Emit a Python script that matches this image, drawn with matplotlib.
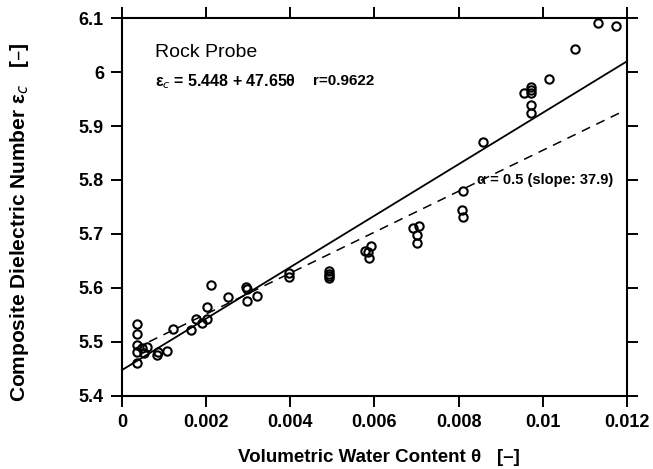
import numpy as np
import matplotlib
matplotlib.use('Agg')
import matplotlib.pyplot as plt

plt.rcParams['font.family'] = ['Liberation Sans', 'DejaVu Sans']

# measured points (volumetric water content, composite dielectric number)
theta = [0.00036, 0.00036, 0.00036, 0.00036, 0.00036, 0.00047, 0.00059,
         0.00052, 0.00083, 0.00085, 0.00108, 0.00121, 0.00165, 0.00176,
         0.00190, 0.00202, 0.00201, 0.00211, 0.00251, 0.00294, 0.00296,
         0.00297, 0.00321, 0.00397, 0.00397, 0.00493, 0.00493, 0.00493,
         0.00493, 0.00577, 0.00591, 0.00585, 0.00588, 0.00691, 0.00706,
         0.00700, 0.00700, 0.00811, 0.00807, 0.00811, 0.00859, 0.00955,
         0.00971, 0.00971, 0.00971, 0.00971, 0.00971, 0.01014, 0.01077,
         0.01132, 0.01174]
eps_c = [5.533, 5.514, 5.494, 5.482, 5.461, 5.488, 5.490, 5.479, 5.476,
         5.482, 5.484, 5.524, 5.522, 5.542, 5.535, 5.542, 5.564, 5.606,
         5.584, 5.601, 5.598, 5.576, 5.585, 5.628, 5.620, 5.631, 5.626,
         5.622, 5.619, 5.669, 5.677, 5.667, 5.656, 5.711, 5.715, 5.698,
         5.683, 5.780, 5.744, 5.731, 5.870, 5.962, 5.973, 5.961, 5.939,
         5.924, 5.966, 5.987, 6.043, 6.091, 6.086]

# regression line and alpha = 0.5 model
fit_a, fit_b = 5.448, 47.65
alpha_a, alpha_b = 5.476, 37.9
fit_x = [0.0, 0.012]
alpha_x = [0.0003, 0.0119]

xticks = [0, 0.002, 0.004, 0.006, 0.008, 0.01, 0.012]
xlabels = ['0', '0.002', '0.004', '0.006', '0.008', '0.01', '0.012']
yticks = [5.4, 5.5, 5.6, 5.7, 5.8, 5.9, 6.0, 6.1]
ylabels = ['5.4', '5.5', '5.6', '5.7', '5.8', '5.9', '6', '6.1']

fig = plt.figure(figsize=(6.53, 4.69), dpi=100)
ax = fig.add_axes([0.1868, 0.1557, 0.7733, 0.8059])

ax.plot(fit_x, [fit_a + fit_b * x for x in fit_x], color='black', lw=1.3)
ax.plot(alpha_x, [alpha_a + alpha_b * x for x in alpha_x], color='black',
        lw=1.1, dashes=(6, 4.5))
ax.plot(theta, eps_c, 'o', mfc='none', mec='black', ms=6, mew=1.5,
        clip_on=False)

ax.set_xlim(0, 0.012)
ax.set_ylim(5.4, 6.1)
ax.set_xticks(xticks)
ax.set_xticklabels(xlabels)
ax.set_yticks(yticks)
ax.set_yticklabels(ylabels)
ax.tick_params(direction='out', length=8, width=1.4, labelsize=13,
               top=True, right=True, pad=5)
for lab in ax.get_xticklabels() + ax.get_yticklabels():
    lab.set_fontweight('bold')
for sp in ax.spines.values():
    sp.set_linewidth(1.5)

ax.set_xlabel('Volumetric Water Content \u03b8   [\u2013]', fontsize=13.5,
              fontweight='bold')
ax.xaxis.set_label_coords(0.508, -0.14)
ax.set_ylabel('Composite Dielectric Number \u03b5$_c$   [\u2013]',
              fontsize=15, fontweight='bold')
ax.yaxis.set_label_coords(-0.18, 0.46)

ax.text(0.00078, 6.036, 'Rock Probe', fontsize=14, va='center')
ax.text(0.00078, 5.983, '\u03b5$_c$ = 5.448 + 47.65\u03b8',
        fontsize=11.5, fontweight='bold', va='center')
ax.text(0.00453, 5.983, 'r=0.9622',
        fontsize=11, fontweight='bold', va='center')
ax.text(0.00843, 5.80, '\u03b1 = 0.5 (slope: 37.9)', fontsize=10.5,
        fontweight='bold', va='center')

fig.savefig('out.png', dpi=100)
